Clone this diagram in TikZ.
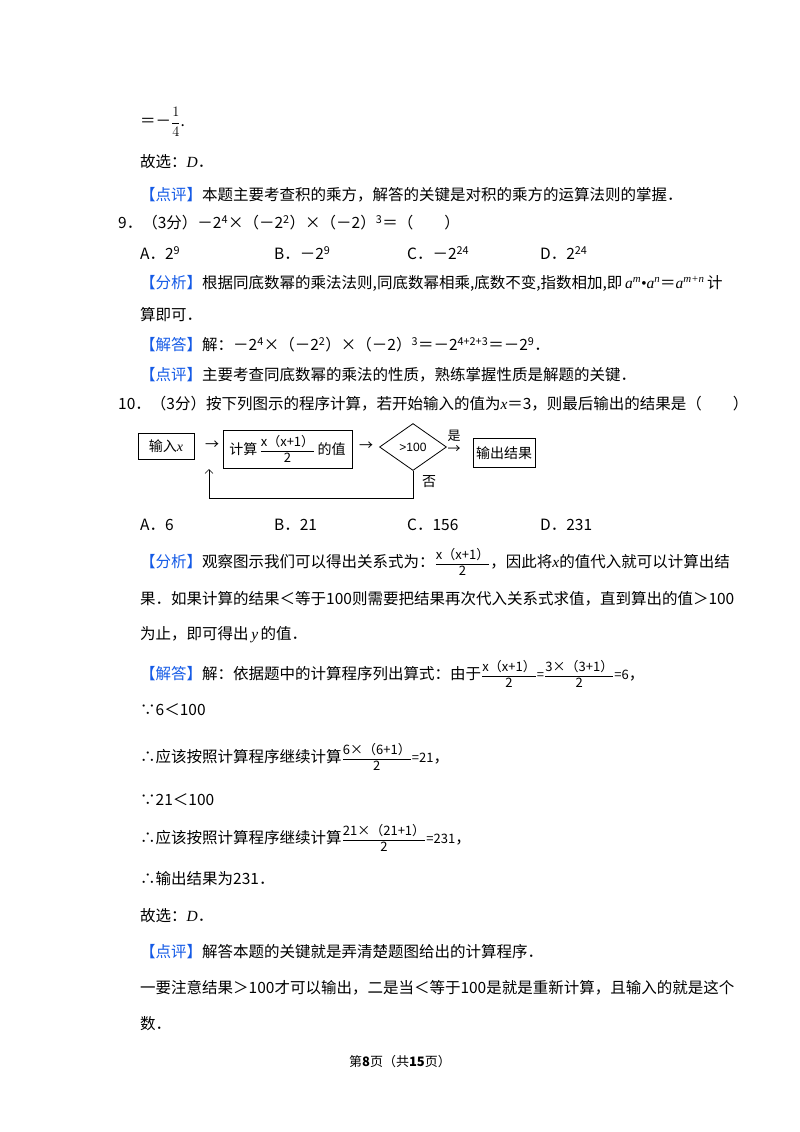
\documentclass[tikz,border=0pt]{standalone}
\usetikzlibrary{shapes.geometric,arrows.meta}
\usepackage{fontspec}
\setmainfont{Liberation Serif}
\newfontfamily\cjk{Noto Sans CJK SC}
\newfontfamily\sa{Liberation Sans}
\definecolor{tagblue}{RGB}{20,90,230}
\newcommand{\tg}[1]{{\color{tagblue}【#1】}}
\newcommand{\fr}[2]{$\displaystyle\frac{\mbox{#1}}{\mbox{#2}}$}
\newcommand{\ff}{\cjk\fontsize{13}{15}\selectfont}
\begin{document}
\begin{tikzpicture}[x=1pt,y=-1pt,
  ln/.style={anchor=west,inner sep=0pt,font=\fontsize{15.5}{18}\cjk},
  bx/.style={draw,line width=1pt,inner sep=3pt,font=\fontsize{14}{16}\cjk},
  ar/.style={-{Straight Barb[length=4pt]},line width=0.6pt}]
\useasboundingbox (0,0) rectangle (800,1132);
\node[ln] (l1) at (140,122) {＝－$\displaystyle\frac{1}{4}$.};
\node[ln] (l2) at (140,162) {故选：\textit{\rmfamily D}．};
\node[ln] (l3) at (140,195) {\tg{点评}本题主要考查积的乘方，解答的关键是对积的乘方的运算法则的掌握．};
\node[ln] (l4) at (118,223) {9．（3分）－2\textsuperscript{4}×（－2\textsuperscript{2}）×（－2）\textsuperscript{3}＝（\hspace{2em}）};
\node[ln] (a1) at (140,253) {A．2\textsuperscript{9}};
\node[ln] (b1) at (274,253) {B．－2\textsuperscript{9}};
\node[ln] (c1) at (407,253) {C．－2\textsuperscript{24}};
\node[ln] (d1) at (540,253) {D．2\textsuperscript{24}};
\node[ln] (l5) at (140,283) {\tg{分析}根据同底数幂的乘法法则,同底数幂相乘,底数不变,指数相加,即\,{\rmfamily\itshape a\textsuperscript{m}•a\textsuperscript{n}}＝{\rmfamily\itshape a\textsuperscript{m+n}}\,计};
\node[ln] (l6) at (140,315) {算即可．};
\node[ln] (l7) at (140,345) {\tg{解答}解：－2\textsuperscript{4}×（－2\textsuperscript{2}）×（－2）\textsuperscript{3}＝－2\textsuperscript{4+2+3}＝－2\textsuperscript{9}．};
\node[ln] (l8) at (140,375) {\tg{点评}主要考查同底数幂的乘法的性质，熟练掌握性质是解题的关键．};
\node[ln] (l9) at (118,404) {10．（3分）按下列图示的程序计算，若开始输入的值为{\rmfamily\itshape x}＝3，则最后输出的结果是（\hspace{2em}）};
% flowchart
\node[bx,minimum width=56pt,minimum height=26pt] (in) at (166,446) {输入{\rmfamily\itshape x}};
\node[bx,minimum width=129pt,minimum height=38pt,inner sep=1pt] (calc) at (287.5,449) {计算\,{\ff\fr{x（x+1）}{2}}\,的值};
\node[draw,line width=0.8pt,diamond,aspect=1.4,minimum width=67pt,minimum height=47pt,inner sep=0pt,font=\fontsize{12}{14}\sa] (dia) at (413,447) {>100};
\node[bx,minimum width=62pt,minimum height=29pt] (out) at (504,453) {输出结果};
\node[inner sep=0pt,font=\fontsize{14}{16}\cjk] (t1) at (212,445) {→};
\node[inner sep=0pt,font=\fontsize{14}{16}\cjk] (t2) at (366,446) {→};
\node[inner sep=0pt,font=\fontsize{13}{15}\cjk] (t3) at (454,450) {→};
\node[inner sep=0pt,font=\fontsize{13}{15}\cjk] (yes) at (454,436) {是};
\node[inner sep=0pt,font=\fontsize{14}{16}\cjk] (no) at (429,482) {否};
\coordinate (c1) at (413,498);
\coordinate (c2) at (209,498);
\draw[ar] (dia.south) -- (c1) -- (c2) -- (209,469);
% options
\node[ln] (a2) at (140,525) {A．6};
\node[ln] (b2) at (274,525) {B．21};
\node[ln] (c2n) at (407,525) {C．156};
\node[ln] (d2) at (540,525) {D．231};
\node[ln] (m1) at (140,562) {\tg{分析}观察图示我们可以得出关系式为：{\ff\fr{x（x+1）}{2}}，因此将{\rmfamily\itshape x}的值代入就可以计算出结};
\node[ln] (m2) at (140,599) {果．如果计算的结果＜等于100则需要把结果再次代入关系式求值，直到算出的值＞100};
\node[ln] (m3) at (140,635) {为止，即可得出\,{\rmfamily\itshape y}\,的值．};
\node[ln] (m4) at (140,674) {\tg{解答}解：依据题中的计算程序列出算式：由于{\ff\fr{x（x+1）}{2}=\fr{3×（3+1）}{2}=6}，};
\node[ln] (m5) at (140,710) {∵6＜100};
\node[ln] (m6) at (140,757) {∴应该按照计算程序继续计算{\ff\fr{6×（6+1）}{2}=21}，};
\node[ln] (m7) at (140,800) {∵21＜100};
\node[ln] (m8) at (140,838) {∴应该按照计算程序继续计算{\ff\fr{21×（21+1）}{2}=231}，};
\node[ln] (m9) at (140,879) {∴输出结果为231．};
\node[ln] (m10) at (140,916) {故选：\textit{\rmfamily D}．};
\node[ln] (m11) at (140,952) {\tg{点评}解答本题的关键就是弄清楚题图给出的计算程序．};
\node[ln] (m12) at (140,988) {一要注意结果＞100才可以输出，二是当＜等于100是就是重新计算，且输入的就是这个};
\node[ln] (m13) at (140,1024) {数．};
\node[inner sep=0pt,font=\fontsize{13}{15}\cjk] (ft) at (400,1062) {第\textbf{8}页（共\textbf{15}页）};
\end{tikzpicture}
\end{document}
